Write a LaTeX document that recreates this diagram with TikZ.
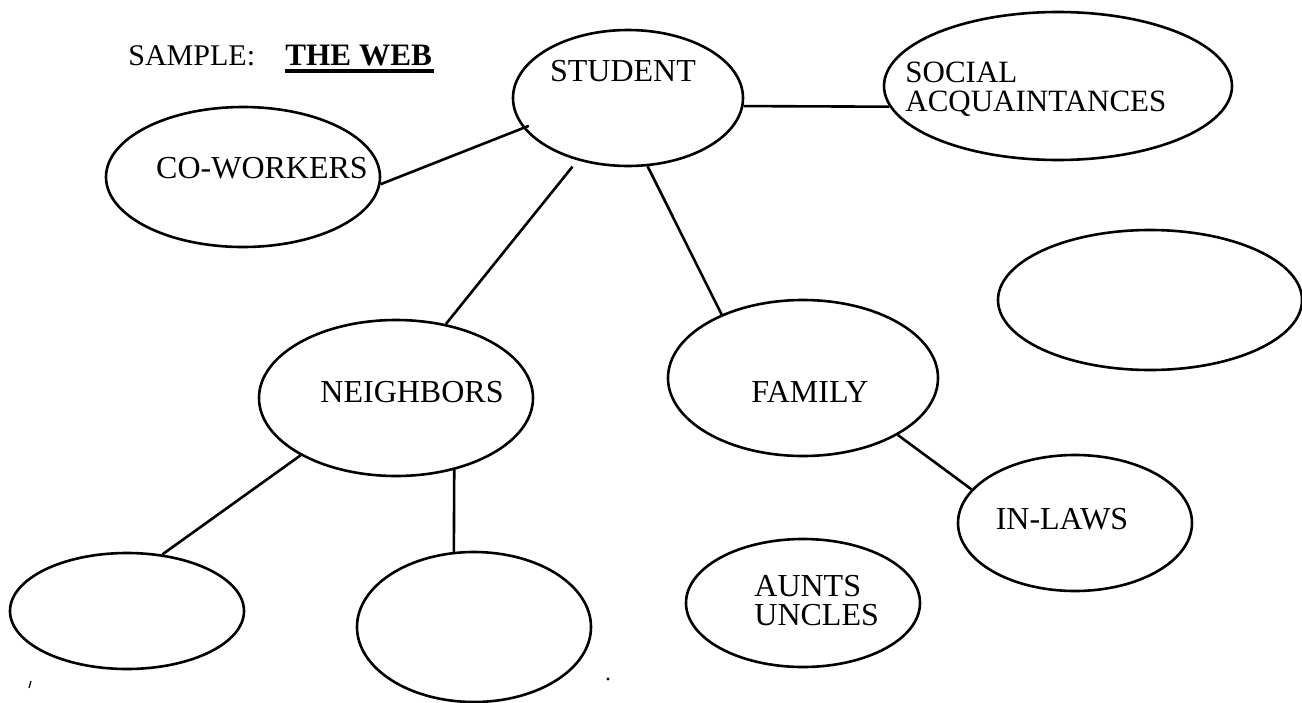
\documentclass[tikz,border=0pt]{standalone}
\usepackage{fontspec}
\setmainfont{Liberation Serif}
\usepackage{tikz}
\usetikzlibrary{positioning, calc, shapes.geometric}

\begin{document}
\begin{tikzpicture}[
    x=0.5pt, y=-0.5pt,
    bubble/.style={ellipse, draw, line width=1.3pt, inner sep=0pt},
    tag/.style={inner sep=0pt, font=\fontsize{16}{14.5}\selectfont},
    headline/.style={inner sep=0pt, anchor=base west, font=\fontsize{15}{18}\selectfont},
    link/.style={line width=1.3pt}
  ]
  \useasboundingbox (0,0) rectangle (1302,702);

  % title
  \node[headline] (sample) at (128,65) {SAMPLE:};
  \node[headline, font=\fontsize{15.6}{18}\selectfont\bfseries] (webtitle) at (285,65) {THE WEB};
  \draw[line width=1.6pt] ($(webtitle.base west)+(0,6)$) -- ($(webtitle.base east)+(2,6)$);

  % bubbles
  \node[bubble, minimum width=115pt, minimum height=68pt] (student) at (628,98) {};
  \node[bubble, minimum width=174pt, minimum height=74pt] (social) at (1058,86) {};
  \node[bubble, minimum width=137pt, minimum height=70pt] (coworkers) at (243,177) {};
  \node[bubble, minimum width=152pt, minimum height=70pt] (blankright) at (1150,300) {};
  \node[bubble, minimum width=137pt, minimum height=78pt] (neighbors) at (396,398) {};
  \node[bubble, minimum width=135pt, minimum height=78pt] (family) at (803,378) {};
  \node[bubble, minimum width=117pt, minimum height=68pt] (inlaws) at (1075,523) {};
  \node[bubble, minimum width=117pt, minimum height=64pt] (aunts) at (803,603) {};
  \node[bubble, minimum width=117pt, minimum height=58pt] (blankleft) at (127,611) {};
  \node[bubble, minimum width=117pt, minimum height=75pt] (blankmid) at (474,627) {};

  % texts
  \node[tag, anchor=base] (studenttxt) at (623,81) {STUDENT};
  \node[tag, anchor=north west, align=left, font=\fontsize{15.5}{14.5}\selectfont] (socialtxt) at (905,62) {SOCIAL\\ACQUAINTANCES};
  \node[tag, anchor=base] (coworkerstxt) at (262,178) {CO-WORKERS};
  \node[tag, anchor=base] (neighborstxt) at (412,402) {NEIGHBORS};
  \node[tag, anchor=base] (familytxt) at (810,402) {FAMILY};
  \node[tag, anchor=base] (inlawstxt) at (1062,529) {IN-LAWS};
  \node[tag, anchor=north west, align=left] (auntstxt) at (754,575) {AUNTS\\UNCLES};

  % links
  \draw[link] (student.-4) -- (social.187);
  \draw[link, shorten >=-3pt] (coworkers.-3) -- (student.196);
  \draw[link, shorten <=4pt] (student.231) -- (neighbors.56);
  \draw[link] (student.-74) -- (family.142);
  \draw[link] (family.-31) -- (inlaws.162);
  \draw[link] (neighbors.211) -- (blankleft.58);
  \draw[link] (neighbors.-51) -- (blankmid.105);

  % specks
  \fill (608,679) circle (0.8pt);
  \draw[line width=0.6pt] (29,688) -- (31,681);
\end{tikzpicture}
\end{document}
